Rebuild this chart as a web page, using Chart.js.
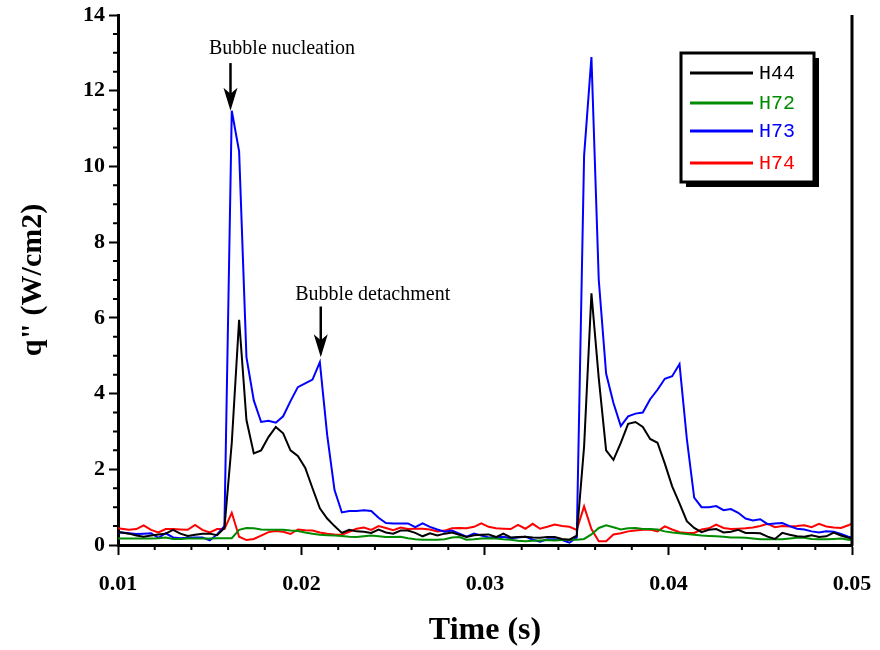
<!DOCTYPE html>
<html>
<head>
<meta charset="utf-8">
<script src="https://cdn.jsdelivr.net/npm/chart.js@4.4.1/dist/chart.umd.min.js"></script>
<style>
  html, body { margin: 0; padding: 0; background: #fff; }
  #wrap { width: 880px; height: 650px; }
</style>
</head>
<body>
<div id="wrap"><canvas id="chart" width="880" height="650"></canvas></div>
<script>
// time (s) of each sample
const time = [
  0.0100,
  0.0102, 0.0106, 0.0110, 0.0114, 0.0118, 0.0122, 0.0126, 0.0130, 0.0134, 0.0138,
  0.0142, 0.0146, 0.0150, 0.0154, 0.0158, 0.0162, 0.0166, 0.0170, 0.0174, 0.0178,
  0.0182, 0.0186, 0.0190, 0.0194, 0.0198, 0.0202, 0.0206, 0.0210, 0.0214, 0.0218,
  0.0222, 0.0226, 0.0230, 0.0234, 0.0238, 0.0242, 0.0246, 0.0250, 0.0254, 0.0258,
  0.0262, 0.0266, 0.0270, 0.0274, 0.0278, 0.0282, 0.0286, 0.0290, 0.0294, 0.0298,
  0.0302, 0.0306, 0.0310, 0.0314, 0.0318, 0.0322, 0.0326, 0.0330, 0.0334, 0.0338,
  0.0342, 0.0346, 0.0350, 0.0354, 0.0358, 0.0362, 0.0366, 0.0370, 0.0374, 0.0378,
  0.0382, 0.0386, 0.0390, 0.0394, 0.0398, 0.0402, 0.0406, 0.0410, 0.0414, 0.0418,
  0.0422, 0.0426, 0.0430, 0.0434, 0.0438, 0.0442, 0.0446, 0.0450, 0.0454, 0.0458,
  0.0462, 0.0466, 0.0470, 0.0474, 0.0478, 0.0482, 0.0486, 0.0490, 0.0494, 0.0498,
  0.0500
]

// heat flux q'' (W/cm2)
const h44 = [
  0.34,
  0.33, 0.30, 0.25, 0.22, 0.25, 0.28, 0.30, 0.40, 0.30, 0.24,
  0.27, 0.30, 0.30, 0.26, 0.45, 2.70, 5.95, 3.30, 2.42, 2.50,
  2.85, 3.12, 2.95, 2.50, 2.35, 2.04, 1.50, 0.97, 0.70, 0.50,
  0.32, 0.40, 0.36, 0.35, 0.32, 0.41, 0.33, 0.30, 0.38, 0.38,
  0.32, 0.23, 0.31, 0.25, 0.30, 0.33, 0.27, 0.21, 0.26, 0.27,
  0.28, 0.21, 0.30, 0.20, 0.21, 0.22, 0.20, 0.19, 0.21, 0.21,
  0.16, 0.14, 0.25, 2.60, 6.65, 4.40, 2.50, 2.25, 2.70, 3.20,
  3.25, 3.12, 2.80, 2.70, 2.15, 1.55, 1.10, 0.63, 0.45, 0.34,
  0.40, 0.42, 0.33, 0.35, 0.40, 0.32, 0.32, 0.31, 0.22, 0.16,
  0.32, 0.27, 0.23, 0.22, 0.26, 0.21, 0.23, 0.33, 0.25, 0.19,
  0.18
]

const h72 = [
  0.17,
  0.17, 0.17, 0.17, 0.17, 0.17, 0.18, 0.20, 0.16, 0.16, 0.17,
  0.17, 0.17, 0.17, 0.18, 0.18, 0.18, 0.40, 0.45, 0.44, 0.41,
  0.40, 0.40, 0.40, 0.38, 0.37, 0.33, 0.30, 0.27, 0.26, 0.25,
  0.24, 0.22, 0.21, 0.23, 0.25, 0.23, 0.21, 0.21, 0.22, 0.18,
  0.15, 0.14, 0.14, 0.14, 0.15, 0.20, 0.21, 0.14, 0.15, 0.17,
  0.18, 0.17, 0.15, 0.14, 0.11, 0.10, 0.11, 0.12, 0.13, 0.12,
  0.13, 0.14, 0.14, 0.16, 0.28, 0.45, 0.52, 0.47, 0.41, 0.44,
  0.45, 0.42, 0.42, 0.41, 0.36, 0.33, 0.31, 0.29, 0.27, 0.25,
  0.24, 0.23, 0.22, 0.20, 0.20, 0.19, 0.17, 0.15, 0.15, 0.15,
  0.15, 0.17, 0.19, 0.19, 0.16, 0.15, 0.15, 0.16, 0.17, 0.14,
  0.13
]

const h73 = [
  0.33,
  0.33, 0.31, 0.29, 0.30, 0.31, 0.19, 0.31, 0.20, 0.18, 0.19,
  0.20, 0.20, 0.12, 0.28, 0.50, 11.47, 10.40, 4.96, 3.82, 3.25,
  3.28, 3.23, 3.40, 3.80, 4.17, 4.27, 4.37, 4.83, 2.90, 1.45,
  0.86, 0.90, 0.90, 0.92, 0.90, 0.72, 0.58, 0.57, 0.57, 0.57,
  0.47, 0.57, 0.48, 0.41, 0.35, 0.38, 0.30, 0.22, 0.30, 0.25,
  0.20, 0.21, 0.22, 0.18, 0.20, 0.22, 0.14, 0.09, 0.15, 0.15,
  0.13, 0.06, 0.20, 10.28, 12.89, 7.00, 4.53, 3.75, 3.14, 3.40,
  3.47, 3.50, 3.85, 4.10, 4.39, 4.46, 4.78, 2.80, 1.25, 1.00,
  1.00, 1.03, 0.92, 0.95, 0.85, 0.70, 0.65, 0.68, 0.55, 0.57,
  0.58, 0.50, 0.43, 0.41, 0.36, 0.33, 0.36, 0.35, 0.29, 0.22,
  0.20
]

const h74 = [
  0.44,
  0.43, 0.40, 0.42, 0.52, 0.40, 0.33, 0.42, 0.42, 0.41, 0.40,
  0.53, 0.40, 0.33, 0.42, 0.42, 0.85, 0.22, 0.13, 0.16, 0.25,
  0.34, 0.37, 0.35, 0.29, 0.41, 0.39, 0.38, 0.33, 0.30, 0.28,
  0.27, 0.35, 0.43, 0.46, 0.40, 0.50, 0.45, 0.39, 0.46, 0.42,
  0.43, 0.43, 0.41, 0.36, 0.38, 0.44, 0.45, 0.44, 0.48, 0.57,
  0.48, 0.44, 0.43, 0.42, 0.53, 0.43, 0.56, 0.43, 0.48, 0.54,
  0.50, 0.48, 0.40, 1.02, 0.42, 0.10, 0.10, 0.28, 0.31, 0.36,
  0.38, 0.40, 0.41, 0.36, 0.49, 0.41, 0.34, 0.32, 0.32, 0.41,
  0.44, 0.54, 0.45, 0.42, 0.43, 0.44, 0.46, 0.50, 0.56, 0.47,
  0.50, 0.49, 0.50, 0.52, 0.47, 0.56, 0.49, 0.46, 0.45, 0.52,
  0.57
]

const seriesNames = ['H44', 'H72', 'H73', 'H74']
const seriesValues = [h44, h72, h73, h74]
const seriesColors = ['#000000', '#008c00', '#0000ff', '#ff0000']

const xTicks = [0.01, 0.02, 0.03, 0.04, 0.05]
const yTicks = [0, 2, 4, 6, 8, 10, 12, 14]

// annotation text + arrow, in data units
const notes = [
  { text: 'Bubble nucleation', tx: 0.01496, ty: 13.1, ax: 0.01613, top: 12.73, tip: 11.47 },
  { text: 'Bubble detachment', tx: 0.01966, ty: 6.62, ax: 0.02105, top: 6.30, tip: 4.96 }
]

const serif = '"Liberation Serif", "Times New Roman", serif'

const decorations = {
  id: 'decorations',
  afterDraw(chart) {
    const { ctx, chartArea: a, scales: { x, y } } = chart
    ctx.save()
    ctx.strokeStyle = '#000'
    ctx.fillStyle = '#000'

    // minor ticks
    ctx.lineWidth = 2
    ctx.beginPath()
    for (let i = 1; i < 20; i++) {
      if (i % 5 === 0) continue
      const px = x.getPixelForValue(0.01 + i * 0.002)
      ctx.moveTo(px, a.bottom)
      ctx.lineTo(px, a.bottom + 5)
    }
    for (let i = 1; i < 28; i++) {
      if (i % 4 === 0) continue
      const py = y.getPixelForValue(i * 0.5)
      ctx.moveTo(a.left - 5, py)
      ctx.lineTo(a.left + 2, py)
    }
    ctx.stroke()

    // right frame line
    ctx.lineWidth = 3
    ctx.beginPath()
    ctx.moveTo(a.right, a.top)
    ctx.lineTo(a.right, a.bottom + 1)
    ctx.stroke()

    // annotations
    ctx.font = '20px ' + serif
    ctx.textBaseline = 'middle'
    ctx.textAlign = 'left'
    notes.forEach(n => {
      ctx.fillStyle = '#000'
      ctx.fillText(n.text, x.getPixelForValue(n.tx), y.getPixelForValue(n.ty))
      const ax = x.getPixelForValue(n.ax)
      const y0 = y.getPixelForValue(n.top)
      const y1 = y.getPixelForValue(n.tip)
      ctx.lineWidth = 2.5
      ctx.beginPath()
      ctx.moveTo(ax, y0)
      ctx.lineTo(ax, y1 - 15)
      ctx.stroke()
      ctx.beginPath()
      ctx.moveTo(ax - 7, y1 - 23)
      ctx.lineTo(ax, y1 - 17)
      ctx.lineTo(ax + 7, y1 - 23)
      ctx.lineTo(ax, y1)
      ctx.closePath()
      ctx.fill()
    })

    // legend box with shadow
    const box = { left: 681, top: 53, w: 133, h: 129 }
    ctx.fillStyle = '#000'
    ctx.fillRect(box.left + 5, box.top + 5, box.w, box.h)
    ctx.fillStyle = '#fff'
    ctx.fillRect(box.left, box.top, box.w, box.h)
    ctx.lineWidth = 3
    ctx.strokeRect(box.left, box.top, box.w, box.h)
    const rows = [73, 103, 131, 163]
    ctx.font = '20px "Liberation Mono", "Courier New", monospace'
    chart.data.datasets.forEach((ds, i) => {
      ctx.strokeStyle = ds.borderColor
      ctx.lineWidth = 3
      ctx.beginPath()
      ctx.moveTo(690, rows[i])
      ctx.lineTo(753, rows[i])
      ctx.stroke()
      ctx.fillStyle = ds.borderColor
      ctx.fillText(ds.label, 759, rows[i] + 1)
    })
    ctx.restore()
  }
}

new Chart(document.getElementById('chart'), {
  type: 'line',
  data: {
    datasets: seriesNames.map((name, i) => ({
      label: name,
      data: seriesValues[i].map((v, j) => ({ x: time[j], y: v })),
      borderColor: seriesColors[i],
      borderWidth: 2,
      pointRadius: 0,
      tension: 0,
      fill: false
    }))
  },
  options: {
    responsive: false,
    animation: false,
    devicePixelRatio: 1,
    layout: { padding: { left: 0, right: 28, top: 15, bottom: 0 } },
    plugins: {
      legend: { display: false },
      tooltip: { enabled: false }
    },
    scales: {
      x: {
        type: 'linear',
        min: 0.01,
        max: 0.05,
        afterBuildTicks: s => { s.ticks = xTicks.map(v => ({ value: v })) },
        afterFit: s => {
          s.height = 105
          s.paddingLeft = 0
          s.paddingRight = 0
        },
        grid: { drawOnChartArea: false, drawTicks: true, tickLength: 10, tickWidth: 2, tickColor: '#000' },
        border: { display: true, width: 3, color: '#000' },
        ticks: {
          color: '#000',
          padding: 16,
          maxRotation: 0,
          font: { family: serif, size: 22, weight: 'bold' },
          callback: v => v.toFixed(2)
        },
        title: {
          display: true,
          text: 'Time (s)',
          color: '#000',
          padding: { top: 0, bottom: 0 },
          font: { family: serif, size: 32, weight: 'bold' }
        }
      },
      y: {
        min: 0,
        max: 14,
        afterBuildTicks: s => { s.ticks = yTicks.map(v => ({ value: v })) },
        afterFit: s => {
          s.width = 118
          s.paddingTop = 0
          s.paddingBottom = 0
        },
        grid: { drawOnChartArea: false, drawTicks: true, tickLength: 9, tickWidth: 2, tickColor: '#000' },
        border: { display: true, width: 3, color: '#000' },
        ticks: {
          color: '#000',
          padding: 4,
          font: { family: serif, size: 22, weight: 'bold' }
        },
        title: {
          display: true,
          text: 'q" (W/cm2)',
          color: '#000',
          padding: { top: 15, bottom: 0 },
          font: { family: serif, size: 30, weight: 'bold' }
        }
      }
    }
  },
  plugins: [decorations]
})
</script>
</body>
</html>
